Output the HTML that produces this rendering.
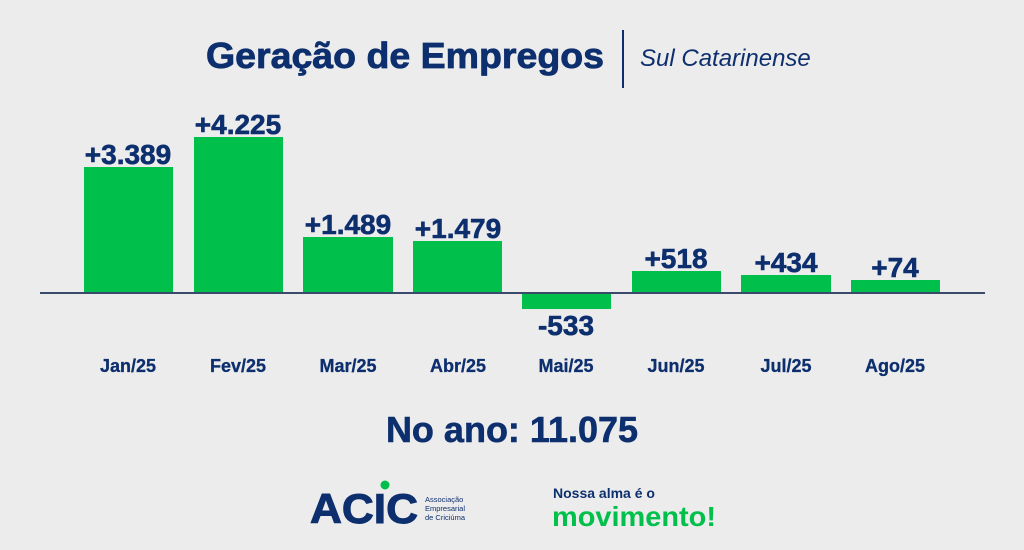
<!DOCTYPE html>
<html><head><meta charset="utf-8"><style>
html,body{margin:0;padding:0;background:#ececec;}
svg{display:block;font-family:"Liberation Sans",sans-serif;}
</style></head><body>
<svg width="1024" height="550" viewBox="0 0 1024 550">
<rect width="1024" height="550" fill="#ececec"/>
<text x="604" y="68" text-anchor="end" font-size="36" font-weight="bold" fill="#0d2f6e" stroke="#0d2f6e" stroke-width="0.8" textLength="398" lengthAdjust="spacingAndGlyphs">Geração de Empregos</text>
<rect x="622" y="30" width="2" height="58" fill="#0d2f6e"/>
<text x="640" y="66" font-size="24" font-style="italic" fill="#0d2f6e">Sul Catarinense</text>
<g fill="#00c04b">
<rect x="84" y="167" width="89" height="126"/>
<rect x="194" y="137" width="89" height="156"/>
<rect x="303" y="237" width="90" height="56"/>
<rect x="413" y="241" width="89" height="52"/>
<rect x="522" y="293" width="89" height="16"/>
<rect x="632" y="271" width="89" height="22"/>
<rect x="741" y="275" width="90" height="18"/>
<rect x="851" y="280" width="89" height="13"/>
</g>
<rect x="40" y="292" width="945" height="2" fill="#3a4a6b"/>
<g font-size="28" font-weight="bold" fill="#0d2f6e" text-anchor="middle" stroke="#0d2f6e" stroke-width="0.6">
<text x="128" y="164">+3.389</text>
<text x="238" y="134">+4.225</text>
<text x="348" y="234">+1.489</text>
<text x="458" y="238">+1.479</text>
<text x="566" y="335">-533</text>
<text x="676" y="268">+518</text>
<text x="786" y="272">+434</text>
<text x="895" y="277">+74</text>
</g>
<g font-size="18" font-weight="bold" fill="#0d2f6e" text-anchor="middle" stroke="#0d2f6e" stroke-width="0.3">
<text x="128" y="372">Jan/25</text>
<text x="238" y="372">Fev/25</text>
<text x="348" y="372">Mar/25</text>
<text x="458" y="372">Abr/25</text>
<text x="566" y="372">Mai/25</text>
<text x="676" y="372">Jun/25</text>
<text x="786" y="372">Jul/25</text>
<text x="895" y="372">Ago/25</text>
</g>
<text x="512" y="442" text-anchor="middle" font-size="36" font-weight="bold" fill="#0d2f6e" stroke="#0d2f6e" stroke-width="0.6">No ano: 11.075</text>
<text x="310" y="523" font-size="42" font-weight="bold" fill="#0d2f6e" stroke="#0d2f6e" stroke-width="1" textLength="108" lengthAdjust="spacingAndGlyphs">ACIC</text>
<circle cx="385" cy="485" r="4.5" fill="#00c04b"/>
<g font-size="7.5" fill="#0d2f6e">
<text x="425" y="502">Associação</text>
<text x="425" y="511">Empresarial</text>
<text x="425" y="520">de Criciúma</text>
</g>
<text x="553" y="498" font-size="14" font-weight="bold" fill="#0d2f6e">Nossa alma é o</text>
<text x="552" y="526" font-size="28" font-weight="bold" fill="#00c04b" textLength="164" lengthAdjust="spacingAndGlyphs">movimento!</text>
</svg>
</body></html>
